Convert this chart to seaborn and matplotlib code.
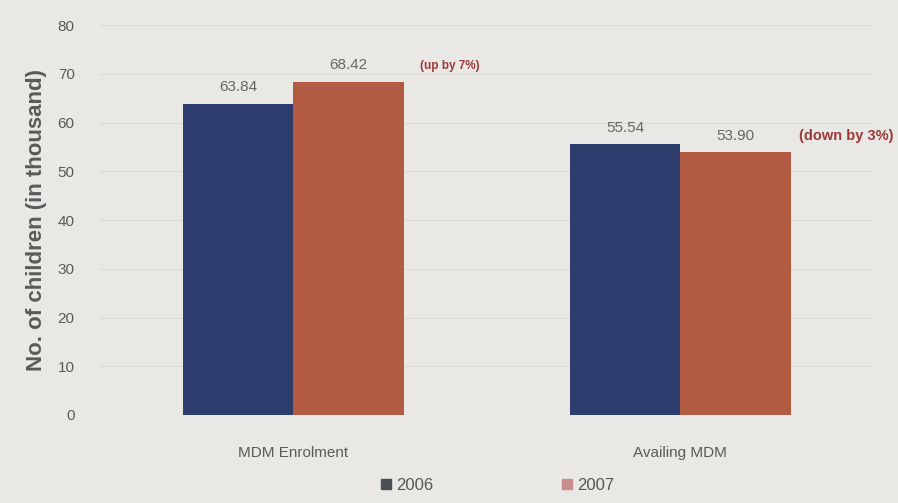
import pandas as pd
import seaborn as sns
from matplotlib import pyplot as plt
from matplotlib.patches import Patch

categories = ["MDM Enrolment", "Availing MDM"]
years = ["2006", "2007"]
values_2006 = [63.84, 55.54]
values_2007 = [68.42, 53.90]
changes = ["(up by 7%)", "(down by 3%)"]

df = pd.DataFrame({
    "category": categories * 2,
    "year": [years[0]] * 2 + [years[1]] * 2,
    "value": values_2006 + values_2007,
})

sns.set_style("white")
plt.rcParams["font.family"] = ["Liberation Sans", "DejaVu Sans"]

fig = plt.figure(figsize=(8.98, 5.03), dpi=100)
fig.patch.set_facecolor("#e9e8e4")
ax = fig.add_axes([0.111, 0.175, 0.862, 0.775])
ax.set_facecolor("#e9e8e4")

palette = {"2006": "#2d3d6e", "2007": "#b25a42"}
sns.barplot(data=df, x="category", y="value", hue="year", palette=palette,
            width=0.57, saturation=1, ax=ax, legend=False, linewidth=0)

ax.set_ylim(0, 80)
ax.set_yticks(range(0, 81, 10))
ax.set_xlim(-0.5, 1.5)
ax.yaxis.grid(True, color="#dcdad5", linewidth=0.8)
ax.set_axisbelow(True)
for s in ax.spines.values():
    s.set_visible(False)
ax.tick_params(axis="both", length=0, labelsize=11, colors="#5a5a5a")
ax.tick_params(axis="y", pad=18)
ax.tick_params(axis="x", pad=22)
ax.set_xlabel("")
ax.set_ylabel("No. of children (in thousand)", fontsize=16, color="#5a5a5a",
              fontweight="bold", labelpad=8)

# value labels
for cont in ax.containers:
    ax.bar_label(cont, labels=[f"{v:.2f}" for v in cont.datavalues], padding=7,
                 fontsize=11, color="#666666")

# change annotations next to the 2007 bars
sizes = [8.5, 10.5]
for i, txt in enumerate(changes):
    ax.annotate(txt, xy=(i + 0.285, values_2007[i]), xytext=(12 if i == 0 else 6, 7),
                textcoords="offset points", fontsize=sizes[i], fontweight="bold",
                color="#9b3a3a", va="bottom", ha="left")

# legend at bottom
handles = [Patch(color="#4b4f57", label="2006"), Patch(color="#c78d8b", label="2007")]
fig.legend(handles=handles, loc="lower center", ncol=2, frameon=False,
           bbox_to_anchor=(0.554, -0.01), fontsize=12, handlelength=0.6,
           handleheight=0.6, handletextpad=0.3, columnspacing=7.7,
           labelcolor="#555555")

fig.savefig("out.png", dpi=100, facecolor=fig.get_facecolor())
